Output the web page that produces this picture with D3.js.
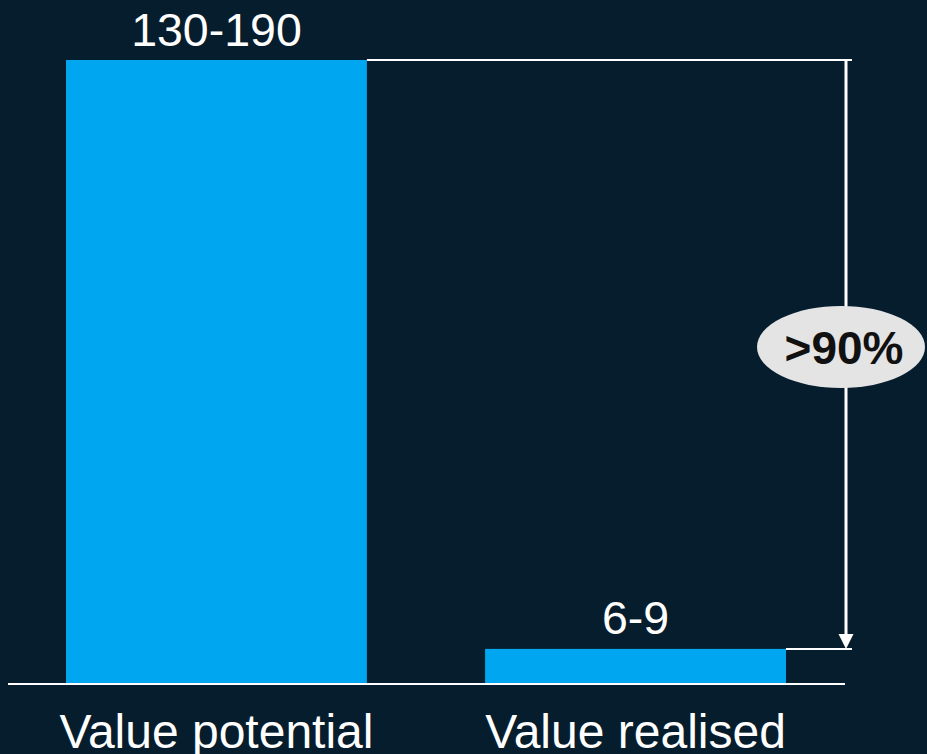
<!DOCTYPE html>
<html><head><meta charset="utf-8">
<script src="https://cdn.jsdelivr.net/npm/d3@7/dist/d3.min.js"></script>
<style>html,body{margin:0;padding:0;background:#061d2d;}svg{display:block;}</style>
</head><body>
<svg id="c" width="927" height="754"></svg>
<script>
const categories = ["Value potential", "Value realised"];
const values = [160, 9];
const valueLabels = ["130-190", "6-9"];
const gapLabel = [">90%"];

const svg = d3.select("#c");
const W = 927, H = 754;
svg.append("rect").attr("width", W).attr("height", H).attr("fill", "#061d2d");

const x = d3.scaleBand().domain(categories).range([66, 786]).paddingInner(0.282).paddingOuter(0);
const y = d3.scaleLinear().domain([0, 160]).range([684, 60]);

const font = "'Liberation Sans', Arial, sans-serif";
const data = categories.map((c, i) => ({c, v: values[i], l: valueLabels[i]}));

svg.selectAll("rect.bar").data(data).enter().append("rect")
  .attr("class", "bar")
  .attr("x", d => x(d.c)).attr("width", x.bandwidth())
  .attr("y", d => y(d.v)).attr("height", d => y(0) - y(d.v))
  .attr("fill", "#00a6f0");

// baseline
svg.append("line").attr("x1", 8).attr("x2", 845).attr("y1", y(0)).attr("y2", y(0))
  .attr("stroke", "#fff").attr("stroke-width", 2);

// value labels
svg.selectAll("text.val").data(data).enter().append("text")
  .attr("class", "val")
  .attr("x", d => x(d.c) + x.bandwidth() / 2).attr("y", d => y(d.v) - 14.5)
  .attr("text-anchor", "middle").attr("fill", "#fff")
  .style("font-family", font).style("font-size", "46.5px")
  .text(d => d.l);

// category labels
svg.selectAll("text.cat").data(data).enter().append("text")
  .attr("class", "cat")
  .attr("x", d => x(d.c) + x.bandwidth() / 2).attr("y", 748)
  .attr("text-anchor", "middle").attr("fill", "#fff")
  .style("font-family", font).style("font-size", "48px")
  .text(d => d.c);

// gap annotation
const xa = 846;
const yTop = y(values[0]), yBot = y(values[1]);
const x1End = x(categories[0]) + x.bandwidth();
const x2End = x(categories[1]) + x.bandwidth();
svg.append("line").attr("x1", x1End).attr("x2", 852).attr("y1", yTop).attr("y2", yTop)
  .attr("stroke", "#fff").attr("stroke-width", 2);
svg.append("line").attr("x1", x2End).attr("x2", 852).attr("y1", yBot).attr("y2", yBot)
  .attr("stroke", "#fff").attr("stroke-width", 2);
svg.append("line").attr("x1", xa).attr("x2", xa).attr("y1", yTop).attr("y2", yBot - 14)
  .attr("stroke", "#fff").attr("stroke-width", 3);
svg.append("path")
  .attr("d", `M${xa - 7.5},${yBot - 15} L${xa + 7.5},${yBot - 15} L${xa},${yBot} Z`)
  .attr("fill", "#fff");

const ey = 347;
svg.append("ellipse").attr("cx", 841).attr("cy", ey).attr("rx", 84).attr("ry", 41)
  .attr("fill", "#e4e4e4");
svg.append("text").attr("x", 844).attr("y", ey + 17)
  .attr("text-anchor", "middle").attr("fill", "#111")
  .style("font-family", font).style("font-size", "46px").style("font-weight", "bold")
  .text(gapLabel[0]);
</script>
</body></html>
